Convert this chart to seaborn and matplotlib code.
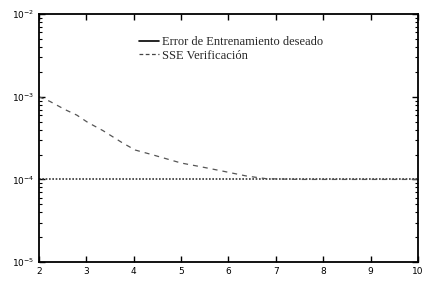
import pandas as pd
import numpy as np
import matplotlib
matplotlib.use("Agg")
import matplotlib.pyplot as plt
import seaborn as sns
from matplotlib.lines import Line2D

# data
epocas = [2.0, 2.23, 2.55, 2.8, 3.03, 3.35, 3.75, 4.03, 4.38, 5.0, 5.4, 5.88, 6.38, 6.8, 7.5, 8.5, 10.0]
sse_verif = [1.0e-3, 8.8e-4, 7.0e-4, 6.0e-4, 4.9e-4, 3.9e-4, 2.8e-4, 2.27e-4, 2.0e-4,
             1.58e-4, 1.43e-4, 1.26e-4, 1.1e-4, 1.02e-4, 1.0e-4, 1.0e-4, 1.0e-4]
error_x = [2.0, 10.0]
error_deseado = [1.0e-4, 1.0e-4]
etiquetas = ['Error de Entrenamiento deseado', 'SSE Verificación']

sns.set_style("white")
plt.rcParams['font.family'] = ['DejaVu Sans']

fig = plt.figure(figsize=(4.23, 2.88), dpi=100)
ax = fig.add_axes([0.092, 0.09, 0.896, 0.861])

df_err = pd.DataFrame({'x': error_x, 'y': error_deseado})
df_sse = pd.DataFrame({'x': epocas, 'y': sse_verif})
sns.lineplot(data=df_err, x='x', y='y', ax=ax, color='#333333', linestyle=(0, (1, 1)), linewidth=1.2)
sns.lineplot(data=df_sse, x='x', y='y', ax=ax, color='#555555', linestyle=(0, (4, 4)), linewidth=0.9)

ax.set_yscale('log')
ax.set_xlim(2, 10)
ax.set_ylim(1e-5, 1e-2)
ax.set_xlabel('')
ax.set_ylabel('')
ax.set_xticks(range(2, 11))
ax.tick_params(axis='both', which='both', direction='in', labelsize=6.5, colors='black',
               top=True, right=True, bottom=True, left=True)
ax.tick_params(axis='both', which='major', length=4, width=1)
ax.tick_params(axis='y', which='minor', length=2, width=0.8)
for s in ax.spines.values():
    s.set_color('black')
    s.set_linewidth(1.3)

handles = [Line2D([0], [0], color='black', linewidth=1.2),
           Line2D([0], [0], color='#444444', linestyle=(0, (3, 2)), linewidth=0.9)]
ax.legend(handles, etiquetas, loc='upper left', bbox_to_anchor=(0.25, 0.93), frameon=False,
          prop={'family': 'Liberation Serif', 'size': 9}, handlelength=1.6,
          handletextpad=0.3, labelspacing=0.1, borderaxespad=0)

fig.savefig('out.png', dpi=100)
